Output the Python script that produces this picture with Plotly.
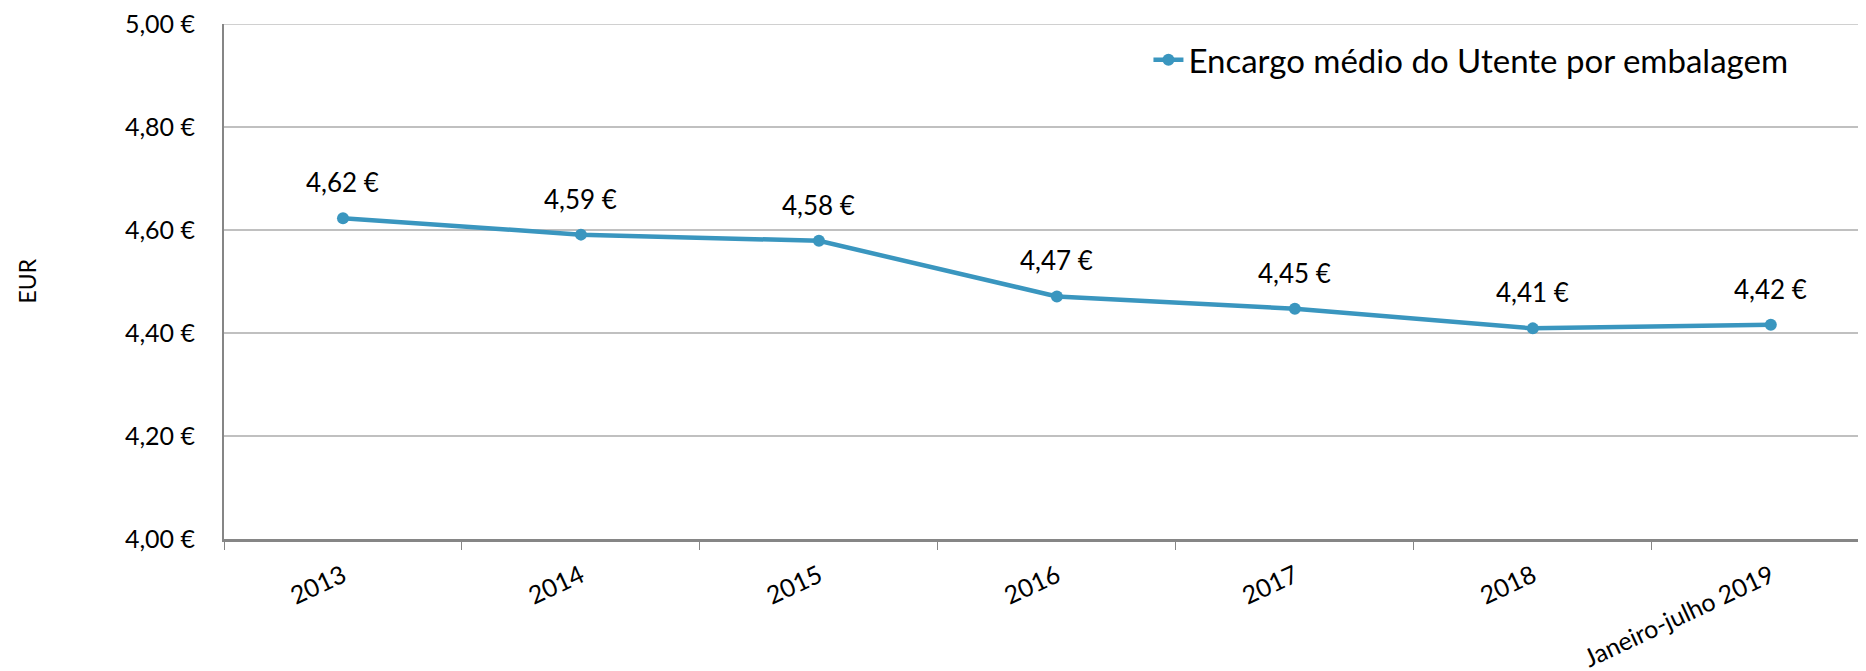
import plotly.graph_objects as go

categories = ["2013", "2014", "2015", "2016", "2017", "2018", "Janeiro-julho 2019"]
encargo_medio = [4.623, 4.591, 4.579, 4.471, 4.447, 4.409, 4.416]
y_ticks = [4.0, 4.2, 4.4, 4.6, 4.8, 5.0]


def euro(v):
    return f"{v:.2f}".replace(".", ",") + " €"


LINE_COLOR = "#3A96BF"
GRID = "#C0C0C0"
AXIS = "#868686"
FONT = "Lato"

fig = go.Figure()
fig.add_trace(go.Scatter(
    x=categories,
    y=encargo_medio,
    mode="lines+markers",
    name="Encargo médio do Utente por embalagem",
    line=dict(color=LINE_COLOR, width=4.5),
    marker=dict(color=LINE_COLOR, size=12),
    cliponaxis=False,
))

# data labels above the points (x by category index, years look numeric)
for i, val in enumerate(encargo_medio):
    fig.add_annotation(
        x=i, y=val, text=euro(val), showarrow=False,
        yshift=36, font=dict(family=FONT, size=26, color="black"),
    )

fig.add_annotation(
    text="EUR", xref="paper", yref="paper", x=0, y=0.5,
    xanchor="center", yanchor="middle", xshift=-198, textangle=-90,
    showarrow=False, font=dict(family=FONT, size=23, color="black"),
)

# plotly drops the gridline sitting on the top edge, draw it back
fig.add_shape(
    type="line", xref="paper", yref="y", x0=0, x1=1, y0=y_ticks[-1], y1=y_ticks[-1],
    line=dict(color=GRID, width=1.5), layer="below",
)

fig.update_layout(
    width=1858,
    height=663,
    plot_bgcolor="white",
    paper_bgcolor="white",
    margin=dict(l=216, r=0, t=16, b=132),
    font=dict(family=FONT, size=19, color="black"),
    showlegend=True,
    legend=dict(
        x=0.563, y=0.985, xanchor="left", yanchor="top",
        font=dict(family=FONT, size=33, color="black"),
        bgcolor="rgba(0,0,0,0)",
    ),
)

fig.update_yaxes(
    range=[4.0, 5.0],
    tickvals=y_ticks,
    ticktext=[euro(v) for v in y_ticks],
    ticklabeloverflow="allow",
    showgrid=True,
    gridcolor=GRID,
    gridwidth=1.5,
    zeroline=False,
    showline=True,
    linecolor=AXIS,
    linewidth=2,
    ticks="",
    ticklabelstandoff=22,
    tickfont=dict(family=FONT, size=25),
)

fig.update_xaxes(
    type="category",
    range=[-0.5, 6.4],
    showgrid=False,
    showline=True,
    linecolor=AXIS,
    linewidth=2.5,
    ticks="outside",
    ticklen=8,
    tickcolor=AXIS,
    tickson="boundaries",
    tickangle=-25,
    ticklabelstandoff=10,
    tickfont=dict(family=FONT, size=25),
)

fig.write_html("out.html")
